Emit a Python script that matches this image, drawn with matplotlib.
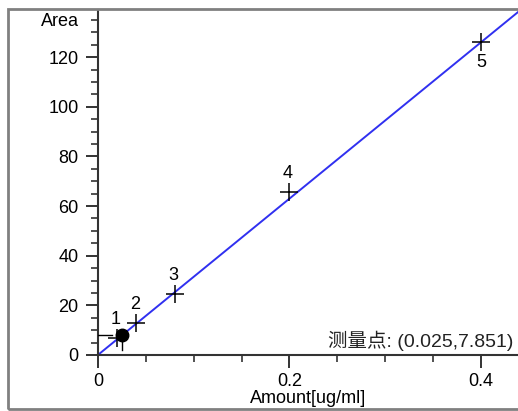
import matplotlib.pyplot as plt
from matplotlib.ticker import MultipleLocator
from matplotlib.patches import Rectangle

plt.rcParams['font.family'] = ['Liberation Sans', 'Noto Sans CJK SC', 'DejaVu Sans']

# calibration points
labels = ['1', '2', '3', '4', '5']
amount = [0.02, 0.04, 0.08, 0.2, 0.4]
area = [6.8, 12.9, 24.5, 65.8, 126.3]

# fit line y = k * x
slope = 315.0
fit_x = [0.0, 0.44]

# measured point
meas_x = 0.025
meas_y = 7.851

fig = plt.figure(figsize=(5.18, 4.11), dpi=100)
ax = fig.add_axes([0.189, 0.1363, 0.811, 0.8394])

# outer gray frame around the whole chart
fig.patches.append(Rectangle((8 / 518, 2 / 411), 520 / 518, 400 / 411,
                             transform=fig.transFigure, fill=False,
                             edgecolor='#808080', linewidth=2))

ax.plot(fit_x, [slope * v for v in fit_x], color='#3030f0', linewidth=1.4, zorder=2)
ax.plot(amount, area, linestyle='none', marker='+', markersize=13,
        markeredgewidth=1.1, color='black', zorder=3)

for lab, xv, yv in zip(labels, amount, area):
    if lab == '5':
        ax.annotate(lab, (xv, yv), xytext=(0, -9), textcoords='offset points',
                    ha='center', va='top', fontsize=13)
    else:
        ax.annotate(lab, (xv, yv), xytext=(-1, 7), textcoords='offset points',
                    ha='center', va='bottom', fontsize=13)

# measured point with projection lines
ax.plot([0, meas_x - 0.01], [meas_y, meas_y], color='black', linewidth=1, zorder=3)
ax.plot([meas_x, meas_x], [meas_y, 2], color='black', linewidth=1, zorder=3)
ax.plot([meas_x], [meas_y], marker='o', markersize=9, color='black', zorder=4)

ax.text(0.99, 0.012, '测量点: (0.025,7.851)', transform=ax.transAxes,
        ha='right', va='bottom', fontsize=14, color='#222222')

ax.set_xlim(0, 0.4386)
ax.set_ylim(0, 139)

ax.spines['top'].set_visible(False)
ax.spines['right'].set_visible(False)
ax.spines['left'].set_linewidth(1.5)
ax.spines['bottom'].set_linewidth(1.5)
ax.spines['left'].set_color('#333333')
ax.spines['bottom'].set_color('#333333')

ax.xaxis.set_major_locator(MultipleLocator(0.2))
ax.xaxis.set_minor_locator(MultipleLocator(0.05))
ax.yaxis.set_major_locator(MultipleLocator(20))
ax.yaxis.set_minor_locator(MultipleLocator(5))
ax.set_xticks([0, 0.2, 0.4])
ax.set_xticklabels(['0', '0.2', '0.4'])

ax.tick_params(axis='both', which='major', length=9, width=1.4, color='#333333',
               labelsize=13, direction='out')
ax.tick_params(axis='both', which='minor', length=5, width=1.2, color='#333333',
               direction='out')
ax.tick_params(axis='x', which='major', pad=4)
ax.tick_params(axis='y', which='major', pad=5)

ax.set_xlabel('Amount[ug/ml]', fontsize=13, labelpad=0)
ax.text(-0.045, 134.5, 'Area', transform=ax.get_yaxis_transform(),
        ha='right', va='center', fontsize=13)

fig.savefig('out.png', dpi=100)
